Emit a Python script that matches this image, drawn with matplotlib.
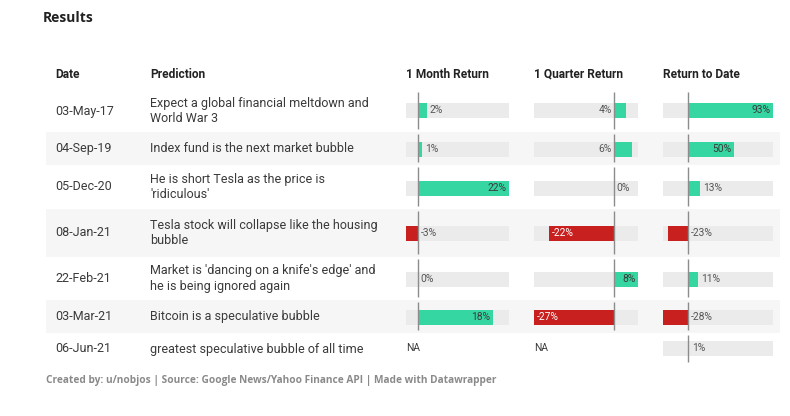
import matplotlib.pyplot as plt
import numpy as np

# table data
dates = ['03-May-17', '04-Sep-19', '05-Dec-20', '08-Jan-21', '22-Feb-21', '03-Mar-21', '06-Jun-21']
predictions = [
    'Expect a global financial meltdown and\nWorld War 3',
    'Index fund is the next market bubble',
    "He is short Tesla as the price is\n'ridiculous'",
    'Tesla stock will collapse like the housing\nbubble',
    "Market is 'dancing on a knife's edge' and\nhe is being ignored again",
    'Bitcoin is a speculative bubble',
    'greatest speculative bubble of all time',
]
month_return = [2, 1, 22, -3, 0, 18, None]
quarter_return = [4, 6, 0, -22, 8, -27, None]
to_date_return = [93, 50, 13, -23, 11, -28, 1]
headers = ['Date', 'Prediction', '1 Month Return', '1 Quarter Return', 'Return to Date']

# layout (pixels)
W, H = 790, 416
row_edges = [90, 132, 165, 209, 257, 300, 333, 365]
bar_y = [110, 149, 188, 233, 279, 317.5, 348]
col_px = [(406, 509), (534, 638), (663, 773)]

GREEN = '#35d6a1'
RED = '#c8201f'
BG = '#ebebeb'
TXT = '#3a3a3a'
FONT = 'Roboto'
LBL = 7.4

fig = plt.figure(figsize=(W / 100, H / 100), dpi=100)
main = fig.add_axes([0, 0, 1, 1])
main.set_xlim(0, W)
main.set_ylim(H, 0)
main.axis('off')

main.text(43, 18, 'Results', fontsize=10, fontweight='bold', family='Open Sans',
          color='#222222', va='center')

head_x = [55, 150, 406, 534, 663]
for hx, h in zip(head_x, headers):
    main.text(hx, 74, h, fontsize=8.6, fontweight='bold', family=FONT, color='#222222', va='center')

for i in range(len(dates)):
    top, bot = row_edges[i], row_edges[i + 1]
    if i % 2 == 1:
        main.axhspan(top, bot, xmin=46 / W, xmax=780 / W, color='#f6f6f6', lw=0, zorder=0)
    yc = (top + bot) / 2
    main.text(55, yc, dates[i], fontsize=9, family=FONT, color=TXT, va='center')
    main.text(150, yc, predictions[i], fontsize=9, family=FONT, color=TXT, va='center',
              linespacing=1.25)

main.text(46, 381, 'Created by: u/nobjos | Source: Google News/Yahoo Finance API | Made with Datawrapper',
          fontsize=7.3, fontweight='bold', family='Open Sans', color='#8a8a8a', va='center')

for (x0, x1), vals in zip(col_px, [month_return, quarter_return, to_date_return]):
    ax = fig.add_axes([x0 / W, 0, (x1 - x0) / W, 1])
    ax.set_ylim(H, 0)
    ax.axis('off')
    ax.patch.set_alpha(0)
    nums = [v for v in vals if v is not None]
    lo, hi = min(nums), max(nums)
    ax.set_xlim(lo, hi)
    px_per = (x1 - x0) / (hi - lo)
    off = 2.5 / px_per
    for i, v in enumerate(vals):
        y = bar_y[i]
        if v is None:
            ax.text(lo, y, 'NA', fontsize=LBL, family=FONT, color=TXT, va='center')
            continue
        ax.barh(y, hi - lo, left=lo, height=15, color=BG, lw=0, zorder=1)
        ax.barh(y, v, height=15, color=GREEN if v >= 0 else RED, lw=0, zorder=2)
        ax.vlines(0, row_edges[i] + 2, row_edges[i + 1] - 3, color='#8c8c8c', lw=1, zorder=3)
        lab = f'{v}%'
        w = abs(v) * px_per
        if v >= 0:
            if w >= 20:
                ax.text(v - off, y, lab, ha='right', va='center', fontsize=LBL, family=FONT, color=TXT, zorder=4)
            elif (hi - v) * px_per >= 20:
                ax.text(v + off, y, lab, ha='left', va='center', fontsize=LBL, family=FONT, color='#555555', zorder=4)
            else:
                ax.text(-off, y, lab, ha='right', va='center', fontsize=LBL, family=FONT, color='#555555', zorder=4)
        else:
            if w >= 30:
                ax.text(v + off, y, lab, ha='left', va='center', fontsize=LBL, family=FONT, color='white', zorder=4)
            else:
                ax.text(off, y, lab, ha='left', va='center', fontsize=LBL, family=FONT, color='#555555', zorder=4)

fig.savefig('out.png', dpi=100, facecolor='white')
